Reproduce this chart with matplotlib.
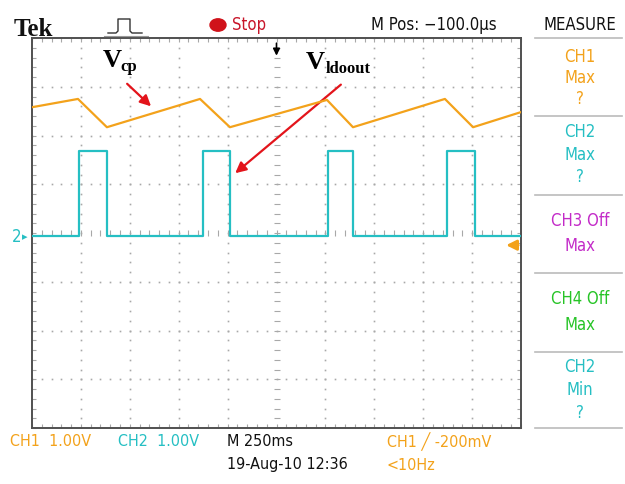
import numpy as np
import matplotlib
matplotlib.use("Agg")
import matplotlib.pyplot as plt
from matplotlib import font_manager
from matplotlib.patches import Circle
from matplotlib.lines import Line2D

# CH1 sawtooth corners (time in ms from trigger, volts from screen centre)
ch1_t = [-1250, -1015, -867, -391, -238, 258, 391, 861, 1005, 1250]
ch1_v = [2.58, 2.75, 2.17, 2.75, 2.17, 2.73, 2.17, 2.75, 2.17, 2.48]

# CH2 pulse edges (ms) and levels (V)
ch2_rise = [-1010, -376, 263, 871]
ch2_fall = [-867, -238, 391, 1015]
ch2_low = -0.06
ch2_high = 1.68

ORANGE = "#F3A21B"
CYAN = "#25BFC3"
MAGENTA = "#C32BC8"
GREEN = "#27C427"
RED = "#E3141B"
GRID = "#A8A8A8"

# scope text is narrow; pick a condensed face if there is one
entries = font_manager.fontManager.ttflist
names = {f.name for f in entries}
stretch = "normal"
if "Liberation Sans Narrow" in names:
    sans = ["Liberation Sans Narrow", "DejaVu Sans"]
elif any(f.name == "DejaVu Sans" and str(f.stretch) in ("condensed", "semi-condensed", "500")
         for f in entries):
    sans = ["DejaVu Sans"]
    stretch = "condensed"
else:
    sans = ["Roboto", "DejaVu Sans"]
serif = ["Liberation Serif", "DejaVu Serif"]
FS = 12

W, H = 625, 484
fig = plt.figure(figsize=(6.25, 4.84), dpi=100)
fig.patch.set_facecolor("white")

def fx(px):
    return px / W

def fy(py):
    return 1 - py / H

def stxt(x, y, s, color, size=FS, **kw):
    kw.setdefault("va", "center")
    fig.text(fx(x), fy(y), s, family=sans, fontstretch=stretch, fontsize=size, color=color, **kw)

ax = fig.add_axes([fx(32), fy(428), 489 / W, 390 / H])
ax.set_xlim(-1250, 1250)
ax.set_ylim(-4, 4)

# graticule
xmaj = np.arange(-1250, 1251, 250)
ymaj = np.arange(-4, 5, 1)
xmin = np.arange(-1250, 1251, 50)
ymin = np.linspace(-4, 4, 41)
for x in xmaj[1:-1]:
    if x == 0:
        continue
    ax.plot([x] * len(ymin), ymin, ls="none", marker="s", ms=1.2, color=GRID, mew=0)
for y in ymaj[1:-1]:
    if y == 0:
        continue
    ax.plot(xmin, [y] * len(xmin), ls="none", marker="s", ms=1.2, color=GRID, mew=0)
ax.plot([0] * len(ymin), ymin, ls="none", marker="_", ms=5, mew=0.8, color=GRID)
ax.plot(xmin, [0] * len(xmin), ls="none", marker="|", ms=5, mew=0.8, color=GRID)

ax.set_xticks(xmin)
ax.set_yticks(ymin)
ax.tick_params(which="both", direction="in", length=3, width=0.8, color=GRID,
               top=True, right=True, labelbottom=False, labelleft=False)
for s in ax.spines.values():
    s.set_color("#505050")
    s.set_linewidth(1.4)

# traces
ax.plot(ch1_t, ch1_v, color=ORANGE, lw=1.6, zorder=5)
pt, pv = [-1250], [ch2_low]
for r, f in zip(ch2_rise, ch2_fall):
    pt += [r, r, f, f]
    pv += [ch2_low, ch2_high, ch2_high, ch2_low]
pt.append(1250)
pv.append(ch2_low)
ax.plot(pt, pv, color=CYAN, lw=1.6, zorder=5)

# trigger position and level markers
ax.annotate("", xy=(0, 3.58), xytext=(0, 3.95),
            arrowprops=dict(arrowstyle="-|>", color="black", lw=1.2, mutation_scale=10))
ax.annotate("", xy=(1160, -0.25), xytext=(1250, -0.25),
            arrowprops=dict(arrowstyle="-|>", color=ORANGE, lw=2.0, mutation_scale=15),
            annotation_clip=False, zorder=6)

# red labelling arrows
ax.annotate("", xy=(-631, 2.56), xytext=(-774, 3.10),
            arrowprops=dict(arrowstyle="-|>", color=RED, lw=1.6, mutation_scale=16))
ax.annotate("", xy=(-222, 1.19), xytext=(340, 3.08),
            arrowprops=dict(arrowstyle="-|>", color=RED, lw=1.6, mutation_scale=16))

# V labels
fig.text(fx(103), fy(67), "V", family=serif, weight="bold", fontsize=19, color="black")
fig.text(fx(120), fy(71), "cp", family=serif, weight="bold", fontsize=12, color="black")
fig.text(fx(306), fy(69), "V", family=serif, weight="bold", fontsize=19, color="black")
fig.text(fx(326), fy(73), "ldoout", family=serif, weight="bold", fontsize=12, color="black")

# header
fig.text(fx(14), fy(36), "Tek", family=serif, weight="bold", fontsize=18, color="#111111")
icon_x = [108, 116, 118, 118, 130, 130, 132, 142]
icon_y = [33, 33, 31, 19, 19, 31, 33, 33]
fig.add_artist(Line2D([fx(v) for v in icon_x], [fy(v) for v in icon_y], color="#333333", lw=1.0))
fig.add_artist(Line2D([fx(104), fx(148)], [fy(36), fy(36)], color="#999999", lw=0.8))
fig.add_artist(Circle((fx(218), fy(25)), 8 / W, transform=fig.transFigure, color="#D0121A"))
stxt(232, 25, "Stop", "#C8162A")
stxt(497, 25, "M Pos: \u2212100.0\u03bcs", "#111111", ha="right")
stxt(580, 25, "MEASURE", "#111111", ha="center")

# measure panel
for y in [38, 116, 195, 273, 352, 428]:
    fig.add_artist(Line2D([fx(535), fx(622)], [fy(y), fy(y)], color="#BBBBBB", lw=1.2))
panel = [
    ("CH1", 57, ORANGE), ("Max", 78, ORANGE), ("?", 99, ORANGE),
    ("CH2", 132, CYAN), ("Max", 155, CYAN), ("?", 177, CYAN),
    ("CH3 Off", 221, MAGENTA), ("Max", 246, MAGENTA),
    ("CH4 Off", 299, GREEN), ("Max", 325, GREEN),
    ("CH2", 367, CYAN), ("Min", 390, CYAN), ("?", 413, CYAN),
]
for txt, y, c in panel:
    stxt(580, y, txt, c, ha="center")

# ground marker for CH2
stxt(12, 237, "2", CYAN)
fig.text(fx(22), fy(237), "\u25b8", family=["DejaVu Sans"], fontsize=8, color=CYAN, va="center")

# footer
stxt(10, 442, "CH1  1.00V", ORANGE, size=11.5)
stxt(118, 442, "CH2  1.00V", CYAN, size=11.5)
stxt(227, 442, "M 250ms", "#111111", size=11.5)
stxt(387, 442, "CH1 \u2571 -200mV", ORANGE, size=11.5)
stxt(227, 465, "19-Aug-10 12:36", "#111111", size=11.5)
stxt(387, 465, "<10Hz", ORANGE, size=11.5)

fig.savefig("out.png", dpi=100, facecolor="white")
